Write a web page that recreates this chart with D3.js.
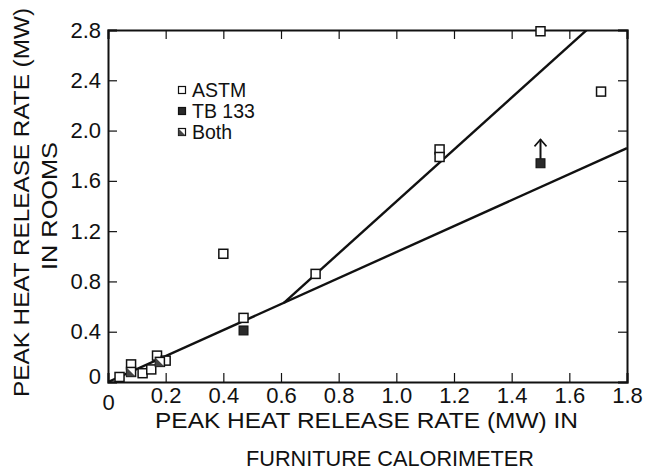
<!DOCTYPE html>
<html>
<head>
<meta charset="utf-8">
<script src="https://cdn.jsdelivr.net/npm/d3@7"></script>
<style>
  body { margin: 0; background: #fff; }
  text { font-family: "Liberation Sans", Arial, sans-serif; fill: #111; }
</style>
</head>
<body>
<div id="chart"></div>
<script>
const width = 648, height = 476;

// data
const astmX = [0.04, 0.08, 0.12, 0.15, 0.17, 0.20, 0.40, 0.47, 0.72, 1.15, 1.15, 1.50, 1.71];
const astmY = [0.04, 0.14, 0.07, 0.10, 0.21, 0.17, 1.02, 0.51, 0.86, 1.85, 1.79, 2.79, 2.31];
const tbX = [0.47, 1.50];
const tbY = [0.41, 1.74];
const bothX = [0.08, 0.18];
const bothY = [0.08, 0.16];
// fitted lines (start/end points)
const lowLine = [[0, 0], [1.8, 1.86]];
const steepLine = [[0.61, 0.63], [1.67, 2.82]];
// arrow on the TB 133 point
const arrowX = [1.50];
const arrowFrom = [1.775];
const arrowTo = [1.93];

const xTicks = [0, 0.2, 0.4, 0.6, 0.8, 1.0, 1.2, 1.4, 1.6, 1.8];
const yTicks = [0, 0.4, 0.8, 1.2, 1.6, 2.0, 2.4, 2.8];
const legendLabels = ["ASTM", "TB 133", "Both"];

const pLeft = 108, pRight = 627, pTop = 30, pBottom = 382;

const x = d3.scaleLinear().domain([0, 1.8]).range([pLeft, pRight]);
const y = d3.scaleLinear().domain([0, 2.8]).range([pBottom, pTop]);

const svg = d3.select("#chart").append("svg")
  .attr("width", width).attr("height", height);

svg.append("defs").append("clipPath").attr("id", "clip")
  .append("rect").attr("x", pLeft).attr("y", pTop)
  .attr("width", pRight - pLeft).attr("height", pBottom - pTop);

// axes, ticks pointing inward
const fmt = d => d === 0 ? "0" : d3.format(".1f")(d);

const gx = svg.append("g").attr("transform", `translate(0,${pBottom})`)
  .call(d3.axisBottom(x).tickValues(xTicks).tickSize(-9).tickPadding(5).tickFormat(fmt));
const gy = svg.append("g").attr("transform", `translate(${pLeft},0)`)
  .call(d3.axisLeft(y).tickValues(yTicks).tickSize(-9).tickPadding(7).tickFormat(fmt));
const gt = svg.append("g").attr("transform", `translate(0,${pTop})`)
  .call(d3.axisTop(x).tickValues(xTicks).tickSize(-9).tickFormat(""));
const gr = svg.append("g").attr("transform", `translate(${pRight},0)`)
  .call(d3.axisRight(y).tickValues(yTicks).tickSize(-9).tickFormat(""));

[gx, gy, gt, gr].forEach(g => {
  g.select(".domain").attr("stroke", "#111").attr("stroke-width", 2);
  g.selectAll(".tick line").attr("stroke", "#111").attr("stroke-width", 1.2);
  g.selectAll("text").attr("font-size", 22)
    .style("font-family", '"Liberation Sans", Arial, sans-serif').attr("fill", "#111");
});
gx.selectAll(".tick text").filter(d => d === 0).attr("dy", "1.05em");
gy.selectAll(".tick text").filter(d => d === 0).attr("dy", "0.05em");

// lines
const line = d3.line().x(d => x(d[0])).y(d => y(d[1]));
const plot = svg.append("g").attr("clip-path", "url(#clip)");
plot.selectAll("path.fit").data([lowLine, steepLine]).join("path")
  .attr("class", "fit")
  .attr("d", line)
  .attr("fill", "none").attr("stroke", "#111").attr("stroke-width", 2.4);

const s = 9;
// ASTM: open squares
svg.append("g").selectAll("rect").data(d3.zip(astmX, astmY)).join("rect")
  .attr("x", d => x(d[0]) - s / 2).attr("y", d => y(d[1]) - s / 2)
  .attr("width", s).attr("height", s)
  .attr("fill", "#fff").attr("stroke", "#111").attr("stroke-width", 1.5);

// Both: square with dark half
const both = svg.append("g").selectAll("g").data(d3.zip(bothX, bothY)).join("g")
  .attr("transform", d => `translate(${x(d[0])},${y(d[1])})`);
both.append("rect").attr("x", -s / 2).attr("y", -s / 2).attr("width", s).attr("height", s)
  .attr("fill", "#fff").attr("stroke", "#111").attr("stroke-width", 1.5);
both.append("path").attr("d", `M${-s / 2},${-s / 2}L${s / 2},${s / 2}L${-s / 2},${s / 2}Z`)
  .attr("fill", "#444");

// TB 133: filled squares
svg.append("g").selectAll("rect").data(d3.zip(tbX, tbY)).join("rect")
  .attr("x", d => x(d[0]) - s / 2).attr("y", d => y(d[1]) - s / 2)
  .attr("width", s).attr("height", s)
  .attr("fill", "#2a2a2a").attr("stroke", "#111").attr("stroke-width", 1);

// arrow
arrowX.forEach((ax, i) => {
  const g = svg.append("g");
  g.append("line").attr("x1", x(ax)).attr("x2", x(ax))
    .attr("y1", y(arrowFrom[i])).attr("y2", y(arrowTo[i]))
    .attr("stroke", "#111").attr("stroke-width", 2);
  g.append("path")
    .attr("d", `M${x(ax) - 6},${y(arrowTo[i]) + 7}L${x(ax)},${y(arrowTo[i])}L${x(ax) + 6},${y(arrowTo[i]) + 7}`)
    .attr("fill", "none").attr("stroke", "#111").attr("stroke-width", 1.6);
});

// legend
const lg = svg.append("g").attr("transform", "translate(182,0)");
const ls = 7;
const legendRows = lg.selectAll("g").data(legendLabels).join("g")
  .attr("transform", (d, i) => `translate(0,${90 + i * 21})`);
legendRows.append("rect").attr("x", -ls / 2).attr("y", -ls / 2).attr("width", ls).attr("height", ls)
  .attr("fill", (d, i) => i === 1 ? "#2a2a2a" : "#fff").attr("stroke", "#111").attr("stroke-width", 1.2);
legendRows.filter((d, i) => i === 2).append("path")
  .attr("d", `M${-ls / 2},${-ls / 2}L${ls / 2},${ls / 2}L${-ls / 2},${ls / 2}Z`).attr("fill", "#444");
legendRows.append("text").attr("x", 10).attr("y", 7)
  .attr("font-size", 19.5).text(d => d);

// axis titles
svg.append("text").attr("x", 155).attr("y", 428).attr("font-size", 22)
  .attr("textLength", 423).attr("lengthAdjust", "spacingAndGlyphs")
  .text("PEAK HEAT RELEASE RATE (MW) IN");
svg.append("text").attr("x", 246).attr("y", 466).attr("font-size", 22)
  .attr("textLength", 288).attr("lengthAdjust", "spacingAndGlyphs")
  .text("FURNITURE CALORIMETER");

svg.append("text").attr("transform", "translate(29,397) rotate(-90)").attr("font-size", 22)
  .attr("textLength", 389).attr("lengthAdjust", "spacingAndGlyphs")
  .text("PEAK HEAT RELEASE RATE (MW)");
svg.append("text").attr("transform", "translate(57,270) rotate(-90)").attr("font-size", 22)
  .attr("textLength", 128).attr("lengthAdjust", "spacingAndGlyphs")
  .text("IN ROOMS");
</script>
</body>
</html>
